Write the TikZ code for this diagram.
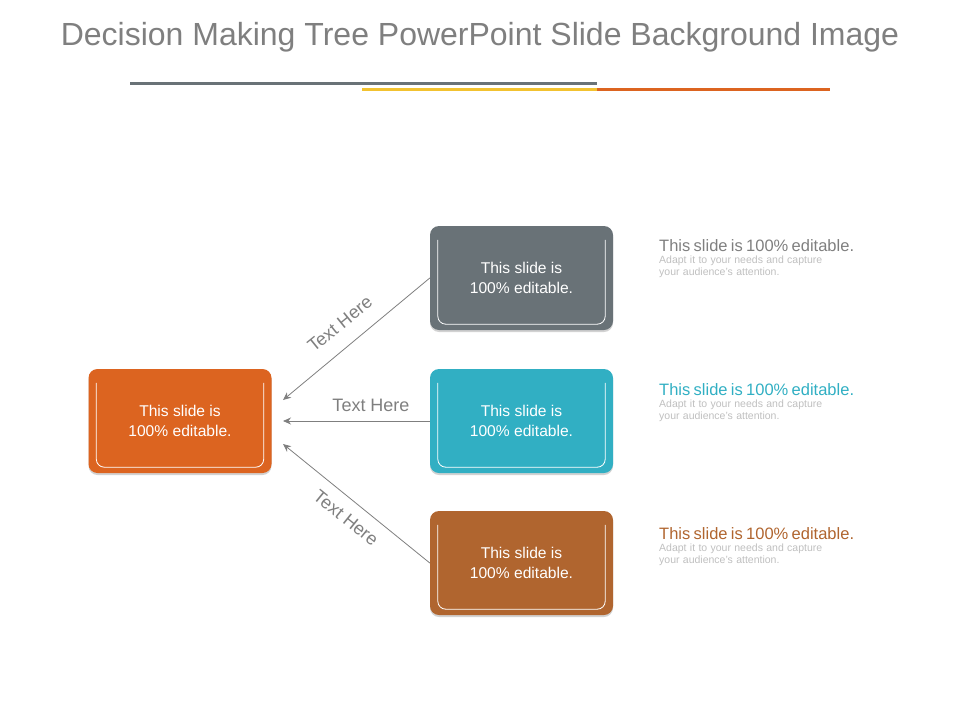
\documentclass[tikz,border=0pt]{standalone}
\usepackage{fontspec}
\setmainfont{Liberation Sans}
\usetikzlibrary{shadows,arrows.meta}
\definecolor{cor}{HTML}{DC6420}
\definecolor{cgr}{HTML}{697277}
\definecolor{cte}{HTML}{31AFC3}
\definecolor{cbr}{HTML}{B0652F}
\definecolor{ctx}{HTML}{7F7F7F}
\definecolor{cyl}{HTML}{F2C230}
\tikzset{
 box/.style={rounded corners=9pt, minimum width=183pt, minimum height=104pt, text=white, align=center, font=\fontsize{15.6}{19.5}\selectfont, drop shadow={shadow xshift=0pt, shadow yshift=-2pt, fill=black!35, opacity=0.5}},
 arr/.style={draw=ctx, line width=0.8pt, -{Stealth[length=8pt,width=7pt]}},
 lbl/.style={text=ctx, font=\fontsize{18}{20}\selectfont},
 desc/.style={text width=203pt, anchor=north west, inner sep=0pt, align=left},
}
\newcommand{\innerline}[1]{%
 \draw[white, line width=0.8pt, rounded corners=8pt] ([xshift=8pt,yshift=-14pt]#1.north west) -- ([xshift=8pt,yshift=6pt]#1.south west) -- ([xshift=-8pt,yshift=6pt]#1.south east) -- ([xshift=-8pt,yshift=-14pt]#1.north east);}
\begin{document}
\begin{tikzpicture}[x=1pt,y=-1pt]
\useasboundingbox (0,0) rectangle (960,720);
\node[text=ctx, font=\fontsize{32}{34}\selectfont] (title) at (480,37) {Decision Making Tree PowerPoint Slide Background Image};
\draw[cgr, line width=3pt] (130,83) -- (597,83);
\draw[cyl, line width=3pt] (362,89) -- (597,89);
\draw[cor, line width=3pt] (597,89) -- (830,89);

\node[box, fill=cor] (L) at (180,421) {This slide is\\100\% editable.};
\node[box, fill=cgr] (A) at (521.5,278) {This slide is\\100\% editable.};
\node[box, fill=cte] (B) at (521.5,421) {This slide is\\100\% editable.};
\node[box, fill=cbr] (C) at (521.5,563) {This slide is\\100\% editable.};
\innerline{L}\innerline{A}\innerline{B}\innerline{C}

\coordinate (t1) at (283,400);
\coordinate (t2) at (283,421);
\coordinate (t3) at (283,444);
\draw[arr] (A.west) -- (t1);
\draw[arr] (B.west) -- (t2);
\draw[arr] (C.west) -- (t3);
\node[lbl, rotate=39] (l1) at (340,324) {Text Here};
\node[lbl] (l2) at (371,405) {Text Here};
\node[lbl, rotate=-39] (l3) at (346,518) {Text Here};

\foreach \y/\c/\n in {239/ctx/d1, 383/cte/d2, 527/cbr/d3}{
 \node[desc] (\n) at (659,\y) {\makebox[203pt][s]{\color{\c}\fontsize{16.5}{17}\selectfont This slide is 100\% editable.}\\[-2pt]
 \color{black!25}\fontsize{10.5}{14}\selectfont\makebox[203pt][s]{Adapt it to your needs and capture}\\
 your audience's attention.};
}
\end{tikzpicture}
\end{document}
